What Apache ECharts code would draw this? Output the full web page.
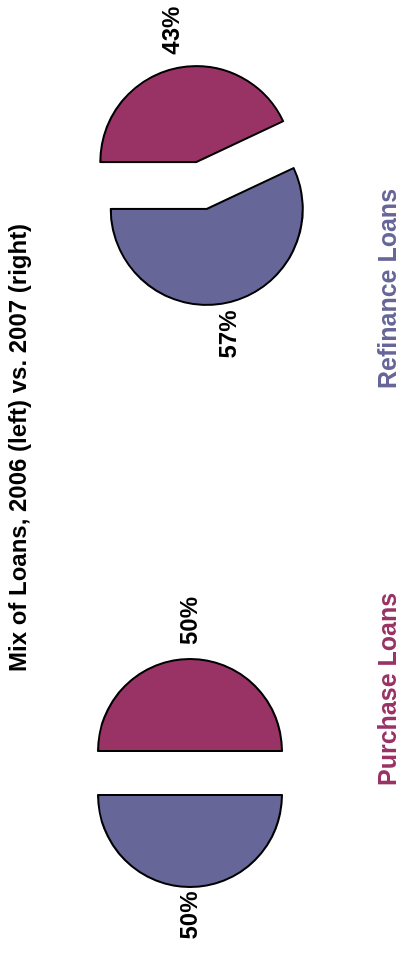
<!DOCTYPE html>
<html>
<head>
<meta charset="utf-8">
<script src="https://cdn.jsdelivr.net/npm/echarts@6/dist/echarts.min.js"></script>
<style>
  html, body { margin: 0; padding: 0; background: #ffffff; width: 401px; height: 953px; overflow: hidden; }
  /* The chart is laid out landscape and turned a quarter turn counter-clockwise. */
  #chart {
    position: absolute; left: 0; top: 0;
    width: 953px; height: 401px;
    transform-origin: 0 0;
    transform: translateY(953px) rotate(-90deg);
  }
</style>
</head>
<body>
<div id="chart"></div>
<script>
// Loan mix shares (percent of loans)
const loanTypes = ['Purchase Loans', 'Refinance Loans'];
const share2006 = [50, 50];
const share2007 = [43, 57];
const typeColors = ['#993366', '#666699'];
const chartTitle = 'Mix of Loans, 2006 (left) vs. 2007 (right)';

const FONT = '"Liberation Sans", Arial, Helvetica, sans-serif';

function pieData(values, lineLens) {
  return values.map((v, i) => ({
    name: loanTypes[i],
    value: v,
    selected: true,
    itemStyle: { color: typeColors[i] },
    select: { itemStyle: { color: typeColors[i], borderColor: '#000', borderWidth: 2 } },
    labelLine: { show: false, length: lineLens[i], length2: 0 }
  }));
}

function pieSeries(name, values, center, radius, offset, lineLens) {
  return {
    type: 'pie',
    name: name,
    center: center,
    radius: radius,
    startAngle: 90,
    clockwise: true,
    selectedMode: 'multiple',
    selectedOffset: offset,
    avoidLabelOverlap: false,
    animation: false,
    emphasis: { disabled: true },
    itemStyle: { borderColor: '#000', borderWidth: 2 },
    label: {
      show: true,
      position: 'outside',
      formatter: '{c}%',
      color: '#000',
      fontFamily: FONT,
      fontWeight: 'bold',
      fontSize: 24,
      distanceToLabelLine: 2
    },
    data: pieData(values, lineLens)
  };
}

const chart = echarts.init(document.getElementById('chart'), null, { renderer: 'canvas' });

chart.setOption({
  backgroundColor: '#ffffff',
  animation: false,
  title: {
    text: chartTitle,
    left: 281,
    top: 7,
    padding: 0,
    textStyle: { fontFamily: FONT, fontWeight: 'bold', fontSize: 24, color: '#000' }
  },
  legend: [
    {
      data: [{ name: loanTypes[0], textStyle: { color: typeColors[0] } }],
      left: 162, top: 377, padding: 0,
      icon: 'none', itemWidth: 0, itemHeight: 0,
      selectedMode: false,
      textStyle: { fontFamily: FONT, fontWeight: 'bold', fontSize: 25 }
    },
    {
      data: [{ name: loanTypes[1], textStyle: { color: typeColors[1] } }],
      left: 559, top: 377, padding: 0,
      icon: 'none', itemWidth: 0, itemHeight: 0,
      selectedMode: false,
      textStyle: { fontFamily: FONT, fontWeight: 'bold', fontSize: 25 }
    }
  ],
  series: [
    pieSeries('2006', share2006, [180, 190], 92, 22, [12, 2.5]),
    pieSeries('2007', share2007, [767.5, 201.5], 96, 24, [12, 6])
  ]
});
</script>
</body>
</html>
